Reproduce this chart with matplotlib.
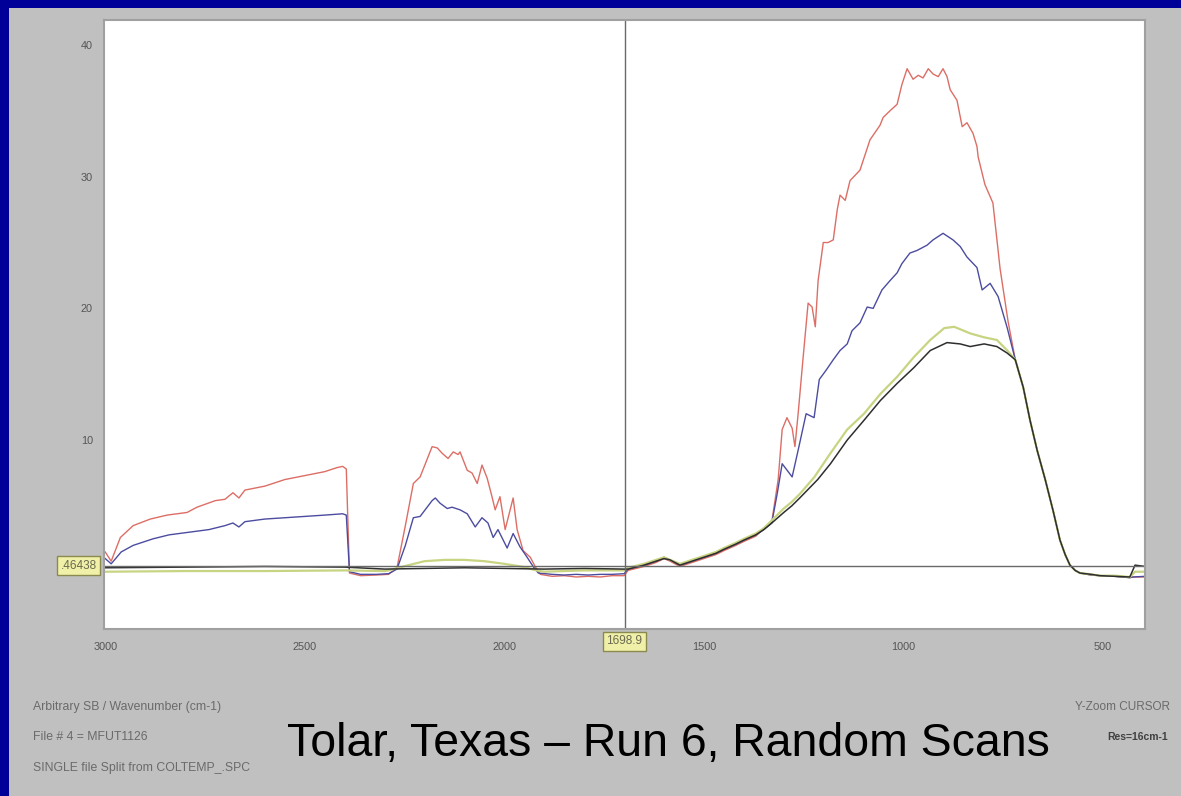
import numpy as np
import matplotlib
matplotlib.use("Agg")
import matplotlib.pyplot as plt
from matplotlib.patches import Rectangle

plt.rcParams['font.family'] = ['Liberation Sans', 'DejaVu Sans']

# spectra: wavenumber (cm-1) and arbitrary single-beam intensity
red_wn = [3000, 2985, 2962, 2930, 2887, 2845, 2795, 2770, 2724, 2700, 2680, 2665, 2650,
          2600, 2550, 2500, 2450, 2420, 2405, 2396, 2388, 2360, 2320, 2290,
          2269, 2248, 2228, 2211, 2181, 2168, 2156, 2141, 2128, 2116, 2111, 2093, 2081,
          2068, 2056, 2043, 2031, 2023, 2011, 1998, 1978, 1968, 1953, 1935, 1923, 1910,
          1880, 1850, 1820, 1790, 1760, 1730, 1700,
          1690, 1650, 1620, 1600, 1585, 1560, 1530, 1500, 1470, 1450, 1420, 1400, 1370,
          1350, 1330, 1314, 1304, 1292, 1279, 1272, 1264, 1252, 1239, 1229, 1221, 1214,
          1201, 1189, 1176, 1166, 1159, 1146, 1134, 1109, 1084, 1059, 1051, 1034, 1016,
          1004, 991, 976, 963, 951, 938, 926, 913, 901, 891, 883, 866, 853, 841, 826,
          816, 813, 796, 783, 776, 758, 738, 720,
          700, 683, 665, 645, 625, 608, 595, 583, 570, 558, 530, 508, 470, 433, 425, 395]
red_sb = [1.5, 0.8, 2.6, 3.5, 4.0, 4.3, 4.5, 4.9, 5.4, 5.5, 6.0, 5.6, 6.2,
          6.5, 7.0, 7.3, 7.6, 7.9, 8.0, 7.8, -0.1, -0.3, -0.25, -0.2,
          0.3, 3.5, 6.7, 7.2, 9.5, 9.4, 9.0, 8.6, 9.1, 8.9, 9.1, 7.7, 7.5,
          6.7, 8.1, 7.1, 5.7, 4.7, 5.7, 3.2, 5.6, 3.2, 1.6, 1.1, 0.4, -0.2,
          -0.35, -0.3, -0.4, -0.35, -0.4, -0.3, -0.3,
          0.1, 0.4, 0.7, 1.0, 0.8, 0.4, 0.7, 1.0, 1.3, 1.6, 2.0, 2.3, 2.7,
          3.3, 3.8, 7.0, 10.8, 11.7, 10.9, 9.5, 12.0, 16.1, 20.4, 20.1, 18.6, 22.1,
          25.0, 25.0, 25.2, 27.5, 28.6, 28.2, 29.7, 30.5, 32.8, 33.9, 34.5, 35.0, 35.5,
          37.0, 38.2, 37.4, 37.7, 37.5, 38.2, 37.8, 37.6, 38.2, 37.6, 36.6, 35.8, 33.8, 34.1, 33.3,
          32.3, 31.5, 29.4, 28.5, 28.0, 23.0, 19.0, 16.1,
          14.0, 11.5, 9.2, 7.0, 4.6, 2.4, 1.3, 0.5, 0.1, -0.1, -0.25, -0.3, -0.35, -0.45, -0.4, -0.4]

blue_wn = [3000, 2985, 2960, 2930, 2880, 2840, 2790, 2740, 2700, 2680, 2665, 2650,
           2600, 2500, 2450, 2405, 2396, 2388, 2360, 2320, 2290,
           2269, 2248, 2228, 2211, 2181, 2173, 2161, 2143, 2131, 2111, 2093, 2073,
           2056, 2041, 2028, 2016, 1993, 1978, 1961, 1943, 1928, 1915,
           1880, 1850, 1820, 1790, 1760, 1730, 1700,
           1690, 1650, 1620, 1600, 1585, 1560, 1530, 1500, 1470, 1450, 1420, 1400, 1370,
           1350, 1330, 1316, 1304, 1279, 1262, 1244, 1224, 1211, 1194, 1176, 1159, 1141,
           1129, 1109, 1091, 1076, 1054, 1034, 1016, 1004, 984, 966, 941, 926, 901, 876,
           858, 841, 816, 803, 783, 763, 740, 720,
           700, 683, 665, 645, 625, 608, 595, 583, 570, 558, 530, 508, 470, 433, 425, 395]
blue_sb = [1.0, 0.6, 1.5, 2.0, 2.5, 2.8, 3.0, 3.2, 3.5, 3.7, 3.4, 3.8,
           4.0, 4.2, 4.3, 4.4, 4.3, 0.0, -0.2, -0.2, -0.15,
           0.2, 2.0, 4.1, 4.2, 5.4, 5.6, 5.2, 4.8, 4.9, 4.7, 4.4, 3.4,
           4.1, 3.7, 2.6, 3.2, 1.8, 2.9, 1.9, 1.1, 0.4, -0.1,
           -0.2, -0.25, -0.2, -0.25, -0.2, -0.2, -0.15,
           0.2, 0.5, 0.8, 1.1, 0.9, 0.5, 0.8, 1.1, 1.4, 1.7, 2.1, 2.4, 2.8,
           3.2, 3.7, 6.0, 8.2, 7.2, 9.5, 12.0, 11.7, 14.6, 15.3, 16.1, 16.8, 17.3,
           18.3, 18.9, 20.1, 20.0, 21.4, 22.1, 22.7, 23.4, 24.2, 24.4, 24.8, 25.2, 25.7, 25.2,
           24.7, 23.9, 23.1, 21.4, 21.9, 20.9, 18.5, 16.1,
           14.0, 11.5, 9.2, 7.0, 4.6, 2.4, 1.3, 0.5, 0.1, -0.1, -0.25, -0.3, -0.35, -0.45, -0.4, -0.35]

green_wn = [3000, 2800, 2600, 2400, 2300, 2290, 2240, 2200, 2150, 2100, 2050, 2000, 1950,
            1920, 1900, 1800, 1700,
            1690, 1650, 1620, 1600, 1585, 1560, 1530, 1500, 1470, 1450, 1420, 1400, 1370,
            1350, 1330, 1300, 1280, 1260, 1223, 1183, 1141, 1099, 1058, 1016, 974, 933,
            898, 873, 833, 798, 766, 740, 720,
            700, 683, 665, 645, 625, 608, 595, 583, 570, 558, 530, 508, 470, 433, 420, 395]
green_sb = [0.0, 0.05, 0.05, 0.1, 0.05, 0.1, 0.5, 0.8, 0.9, 0.9, 0.8, 0.6, 0.35,
            0.1, 0.0, 0.1, 0.1,
            0.3, 0.6, 0.9, 1.1, 0.9, 0.6, 0.9, 1.2, 1.5, 1.8, 2.2, 2.5, 2.9,
            3.3, 3.9, 4.8, 5.3, 5.9, 7.2, 9.0, 10.8, 12.0, 13.5, 14.8, 16.3, 17.6,
            18.5, 18.6, 18.1, 17.8, 17.6, 16.8, 16.1,
            14.0, 11.5, 9.2, 7.0, 4.6, 2.4, 1.3, 0.5, 0.1, -0.1, -0.2, -0.3, -0.3, -0.4, 0.0, 0.0]

black_wn = [3000, 2800, 2600, 2400, 2300, 2200, 2100, 2000, 1900, 1800, 1700,
            1690, 1650, 1620, 1600, 1585, 1560, 1530, 1500, 1470, 1450, 1420, 1400, 1370,
            1350, 1330, 1300, 1280, 1260, 1215, 1183, 1141, 1099, 1058, 1016, 974, 933,
            891, 858, 833, 798, 766, 740, 720,
            700, 683, 665, 645, 625, 608, 595, 583, 570, 558, 530, 508, 470, 433, 420, 395]
black_sb = [0.3, 0.35, 0.4, 0.35, 0.2, 0.25, 0.3, 0.25, 0.2, 0.25, 0.2,
            0.2, 0.5, 0.8, 1.0, 0.9, 0.5, 0.8, 1.1, 1.4, 1.7, 2.1, 2.4, 2.8,
            3.2, 3.7, 4.5, 5.0, 5.6, 7.0, 8.2, 10.0, 11.5, 13.0, 14.3, 15.5, 16.8,
            17.4, 17.3, 17.1, 17.3, 17.1, 16.6, 16.1,
            14.0, 11.5, 9.2, 7.0, 4.6, 2.4, 1.3, 0.5, 0.1, -0.1, -0.2, -0.3, -0.35, -0.4, 0.5, 0.4]

cursor_wn = 1698.9
cursor_sb = 0.46438
x_ticks = [3000, 2500, 2000, 1500, 1000, 500]
y_ticks = [10, 20, 30, 40]

W, H = 1181, 796
fig = plt.figure(figsize=(W / 100, H / 100), dpi=100, facecolor='#000099')
fig.patches.append(Rectangle((9 / W, 0), 1, 1 - 8 / H, transform=fig.transFigure,
                             facecolor='#c0c0c0', edgecolor='none', zorder=-10))

ax = fig.add_axes([104 / W, 1 - 629 / H, (1145 - 104) / W, (629 - 20) / H])
ax.set_facecolor('white')
for s in ax.spines.values():
    s.set_color('#a0a0a0')
    s.set_linewidth(1.5)

ax.plot(red_wn, red_sb, color='#dc6e66', lw=1.0)
ax.plot(blue_wn, blue_sb, color='#4c4ca0', lw=1.0)
ax.plot(green_wn, green_sb, color='#c8d482', lw=1.6)
ax.plot(black_wn, black_sb, color='#2e2e2e', lw=1.1)

ax.axvline(cursor_wn, color='#6a6a6a', lw=1.0)
ax.axhline(cursor_sb, color='#6a6a6a', lw=1.0)

ax.set_xlim(3003, 395)
ax.set_ylim(-4.35, 41.9)
ax.set_xticks(x_ticks)
ax.set_yticks(y_ticks)
ax.tick_params(length=0, labelsize=7.8, labelcolor='#555555')
ax.tick_params(axis='x', pad=9)
ax.tick_params(axis='y', pad=8)

box = dict(boxstyle='square,pad=0.3', facecolor='#f0f0a8', edgecolor='#8a8a50', lw=1)
ax.text(-0.007, cursor_sb, '.46438', transform=ax.get_yaxis_transform(),
        ha='right', va='center', fontsize=8.5, color='#6a6a50', bbox=box)
ax.text(cursor_wn, -0.01, '1698.9', transform=ax.get_xaxis_transform(),
        ha='center', va='top', fontsize=8.5, color='#6a6a50', bbox=box)

info = '#6a6a6a'
fig.text(33 / W, 1 - 707 / H, 'Arbitrary SB / Wavenumber (cm-1)', fontsize=8.8, color=info, va='center')
fig.text(33 / W, 1 - 737 / H, 'File # 4 = MFUT1126', fontsize=8.8, color=info, va='center')
fig.text(33 / W, 1 - 768 / H, 'SINGLE file Split from COLTEMP_.SPC', fontsize=8.8, color=info, va='center')
fig.text(1170 / W, 1 - 707 / H, 'Y-Zoom CURSOR', fontsize=8.5, color=info, ha='right', va='center')
fig.text(1168 / W, 1 - 737 / H, 'Res=16cm-1', fontsize=7.5, color='#404040', ha='right',
         va='center', fontweight='bold')

fig.text(668 / W, 1 - 744 / H, 'Tolar, Texas \u2013 Run 6, Random Scans', fontsize=33.4,
         color='black', ha='center', va='center')

fig.savefig('out.png', dpi=100, facecolor=fig.get_facecolor())
